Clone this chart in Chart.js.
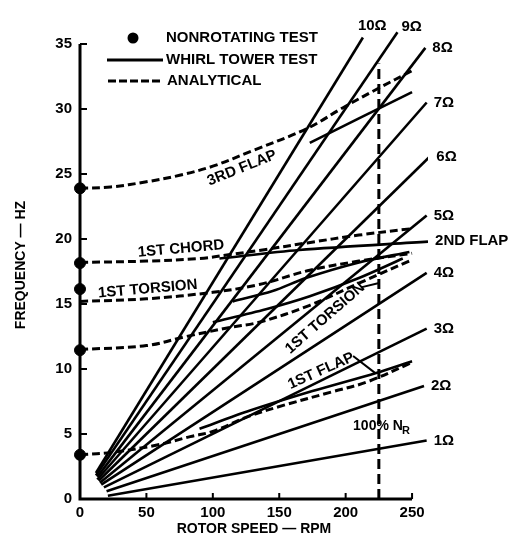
<!DOCTYPE html>
<html>
<head>
<meta charset="utf-8">
<title>Rotor frequencies</title>
<script src="https://cdn.jsdelivr.net/npm/chart.js@4.4.0/dist/chart.umd.min.js"></script>
<style>
  html, body { margin: 0; padding: 0; background: #fff; }
</style>
</head>
<body>
<canvas id="myChart" width="512" height="538"></canvas>
<script>
// axis ticks
const rpmTicks = [0, 50, 100, 150, 200, 250];
const hzTicks = [0, 5, 10, 15, 20, 25, 30, 35];

// nonrotating test (at 0 rpm)
const nonrotRpm = [0, 0, 0, 0, 0];
const nonrotHz = [23.9, 18.15, 16.15, 11.45, 3.4];

// per-rev lines, start and end
const perRevNames = ["1Ω", "2Ω", "3Ω", "4Ω", "5Ω", "6Ω", "7Ω", "8Ω", "9Ω", "10Ω"];
const perRevStartRpm = [21, 20, 18, 16, 15, 14, 13, 13, 12, 12];
const perRevStartHz = [0.25, 0.6, 0.9, 1.1, 1.25, 1.4, 1.5, 1.7, 1.8, 2.0];
const perRevEndRpm = [261, 259, 261, 261, 261, 263, 261, 260, 239, 213];
const perRevEndHz = [4.5, 8.7, 13.1, 17.4, 21.8, 26.3, 30.5, 34.7, 35.9, 35.5];

// analytical curves
const flap1AnaRpm = [0, 25, 58, 83, 100, 128, 153, 190, 216, 250];
const flap1AnaHz = [3.4, 3.6, 4.15, 4.8, 5.2, 6.4, 7.2, 8.25, 9.0, 10.5];
const flap2AnaRpm = [0, 50, 80, 113, 135, 173, 210, 250];
const flap2AnaHz = [11.5, 11.8, 12.5, 13.2, 13.6, 14.9, 16.6, 18.4];
const tors1AnaRpm = [0, 50, 100, 135, 173, 210, 250];
const tors1AnaHz = [15.2, 15.4, 15.9, 16.5, 17.6, 18.3, 18.9];
const chord1AnaRpm = [0, 50, 90, 113, 140, 171, 210, 250];
const chord1AnaHz = [18.2, 18.3, 18.5, 18.8, 19.2, 19.7, 20.3, 20.8];
const flap3AnaRpm = [0, 23, 50, 75, 100, 130, 171, 198, 223, 251];
const flap3AnaHz = [23.9, 24.0, 24.4, 24.9, 25.6, 26.8, 28.5, 30.1, 31.5, 33.0];

// whirl tower test curves
const flap1TestRpm = [90, 128, 175, 223, 250];
const flap1TestHz = [5.4, 6.8, 8.3, 9.7, 10.6];
const flap2TestRpm = [100, 140, 173, 210, 243];
const flap2TestHz = [13.6, 14.6, 15.6, 17.0, 18.5];
const tors1TestRpm = [115, 145, 170, 210, 248];
const tors1TestHz = [15.2, 16.0, 17.0, 18.2, 19.0];
const chord1TestRpm = [105, 165, 262];
const chord1TestHz = [18.5, 19.15, 19.8];
const flap3TestRpm = [173, 250];
const flap3TestHz = [27.4, 31.3];

// 100% rotor speed
const nrRpm = [225, 225];
const nrHz = [0, 33.5];

function pts(xs, ys) {
  return xs.map((x, i) => ({ x: x, y: ys[i] }));
}

const datasets = [];

for (let i = 0; i < perRevNames.length; i++) {
  datasets.push({
    label: perRevNames[i],
    data: pts([perRevStartRpm[i], perRevEndRpm[i]], [perRevStartHz[i], perRevEndHz[i]]),
    showLine: true, borderColor: "#000", borderWidth: 2.6, pointRadius: 0
  });
}

const anaCurves = [[flap1AnaRpm, flap1AnaHz], [flap2AnaRpm, flap2AnaHz], [tors1AnaRpm, tors1AnaHz],
  [chord1AnaRpm, chord1AnaHz], [flap3AnaRpm, flap3AnaHz]];
anaCurves.forEach(c => {
  datasets.push({
    label: "analytical",
    data: pts(c[0], c[1]),
    showLine: true, borderColor: "#000", borderWidth: 3, borderDash: [8, 4],
    tension: 0.35, pointRadius: 0, clip: false
  });
});

const testCurves = [[flap1TestRpm, flap1TestHz], [flap2TestRpm, flap2TestHz], [tors1TestRpm, tors1TestHz],
  [chord1TestRpm, chord1TestHz], [flap3TestRpm, flap3TestHz]];
testCurves.forEach(c => {
  datasets.push({
    label: "whirl tower",
    data: pts(c[0], c[1]),
    showLine: true, borderColor: "#000", borderWidth: 2.6, tension: 0.3, pointRadius: 0
  });
});

datasets.push({
  label: "100% NR",
  data: pts(nrRpm, nrHz),
  showLine: true, borderColor: "#000", borderWidth: 3, borderDash: [10, 5], pointRadius: 0
});

datasets.push({
  label: "nonrotating",
  data: pts(nonrotRpm, nonrotHz),
  showLine: false, pointRadius: 5.5, pointBackgroundColor: "#000", pointBorderColor: "#000", clip: false
});

const boldFont = (s) => ({ family: "'Liberation Sans', Arial, sans-serif", weight: "bold", size: s });

// Ω label offsets from the line end, px
const omegaOffset = { "9Ω": [4, -5], "10Ω": [-5, -12] };

// text notes (placed in data coords)
const notes = [
  { text: "3RD FLAP", x: 122, y: 25.45, rot: -22 },
  { text: "1ST CHORD", x: 76, y: 19.25, rot: -5 },
  { text: "1ST TORSION", x: 51, y: 16.15, rot: -5 },
  { text: "1ST TORSION", x: 184.5, y: 13.9, rot: -41 },
  { text: "1ST FLAP", x: 181.5, y: 9.85, rot: -24 }
];

const paperPlugin = {
  id: "paper",
  afterDatasetsDraw(chart) {
    const ctx = chart.ctx;
    const xs = chart.scales.x, ys = chart.scales.y;
    const X = v => xs.getPixelForValue(v), Y = v => ys.getPixelForValue(v);
    ctx.save();
    ctx.strokeStyle = "#000";
    ctx.fillStyle = "#000";
    ctx.setLineDash([]);

    // axes with inward ticks
    ctx.lineWidth = 3;
    ctx.beginPath();
    ctx.moveTo(X(0), Y(35));
    ctx.lineTo(X(0), Y(0));
    ctx.lineTo(X(250), Y(0));
    ctx.stroke();
    ctx.lineWidth = 2;
    ctx.beginPath();
    hzTicks.forEach(v => { if (v > 0) { ctx.moveTo(X(0), Y(v)); ctx.lineTo(X(0) + 7, Y(v)); } });
    rpmTicks.forEach(v => { if (v > 0) { ctx.moveTo(X(v), Y(0)); ctx.lineTo(X(v), Y(0) - 6); } });
    ctx.stroke();

    // Ω labels
    ctx.font = "bold 15px 'Liberation Sans', Arial, sans-serif";
    ctx.textBaseline = "middle";
    ctx.textAlign = "left";
    perRevNames.forEach((n, i) => {
      const off = omegaOffset[n] || [7, 0];
      ctx.fillText(n, X(perRevEndRpm[i]) + off[0], Y(perRevEndHz[i]) + off[1]);
    });
    ctx.fillText("2ND FLAP", X(267.3), Y(19.85));

    // notes along the curves
    notes.forEach(n => {
      ctx.save();
      ctx.translate(X(n.x), Y(n.y));
      ctx.rotate(n.rot * Math.PI / 180);
      ctx.textAlign = "center";
      ctx.fillText(n.text, 0, 0);
      ctx.restore();
    });

    // leader lines
    ctx.lineWidth = 2;
    ctx.beginPath();
    ctx.moveTo(X(212.3), Y(16.3)); ctx.lineTo(X(224.4), Y(16.6));
    ctx.moveTo(X(205.6), Y(11.0)); ctx.lineTo(X(222.1), Y(9.7));
    ctx.stroke();

    // 100% NR
    ctx.font = "bold 14px 'Liberation Sans', Arial, sans-serif";
    ctx.textAlign = "left";
    ctx.fillText("100% N", X(205.6), Y(5.6));
    ctx.font = "bold 11px 'Liberation Sans', Arial, sans-serif";
    ctx.fillText("R", X(242.5), Y(5.2));

    // legend
    ctx.font = "bold 15px 'Liberation Sans', Arial, sans-serif";
    ctx.beginPath();
    ctx.arc(133, 38, 5.5, 0, Math.PI * 2);
    ctx.fill();
    ctx.lineWidth = 3;
    ctx.beginPath();
    ctx.moveTo(107, 60); ctx.lineTo(163, 60);
    ctx.stroke();
    ctx.setLineDash([8, 3]);
    ctx.beginPath();
    ctx.moveTo(108, 81); ctx.lineTo(163, 81);
    ctx.stroke();
    ctx.setLineDash([]);
    ctx.fillText("NONROTATING TEST", 166, 38);
    ctx.fillText("WHIRL TOWER TEST", 166, 60);
    ctx.fillText("ANALYTICAL", 167, 81);
    ctx.restore();
  }
};

new Chart(document.getElementById("myChart"), {
  type: "scatter",
  data: { datasets: datasets },
  options: {
    responsive: false,
    animation: false,
    layout: { padding: { left: 9, right: 84, top: 31, bottom: 0 } },
    plugins: { legend: { display: false }, tooltip: { enabled: false } },
    scales: {
      x: {
        type: "linear", min: 0, max: 262,
        grid: { display: false, drawTicks: false },
        border: { display: false },
        afterBuildTicks: s => { s.ticks = rpmTicks.map(v => ({ value: v })); },
        ticks: { font: boldFont(15), color: "#000", padding: 5, maxRotation: 0, autoSkip: false },
        title: { display: true, text: "ROTOR SPEED — RPM", font: boldFont(14), color: "#000", padding: { top: 2, bottom: 0 } },
        afterFit: s => { s.height = 39; }
      },
      y: {
        type: "linear", min: 0, max: 36,
        grid: { display: false, drawTicks: false },
        border: { display: false },
        afterBuildTicks: s => { s.ticks = hzTicks.map(v => ({ value: v })); },
        ticks: { font: boldFont(15), color: "#000", padding: 8, autoSkip: false },
        title: { display: true, text: "FREQUENCY — HZ", font: boldFont(14), color: "#000", padding: { top: 4, bottom: 0 } },
        afterFit: s => { s.width = 71; }
      }
    }
  },
  plugins: [paperPlugin]
});
</script>
</body>
</html>
